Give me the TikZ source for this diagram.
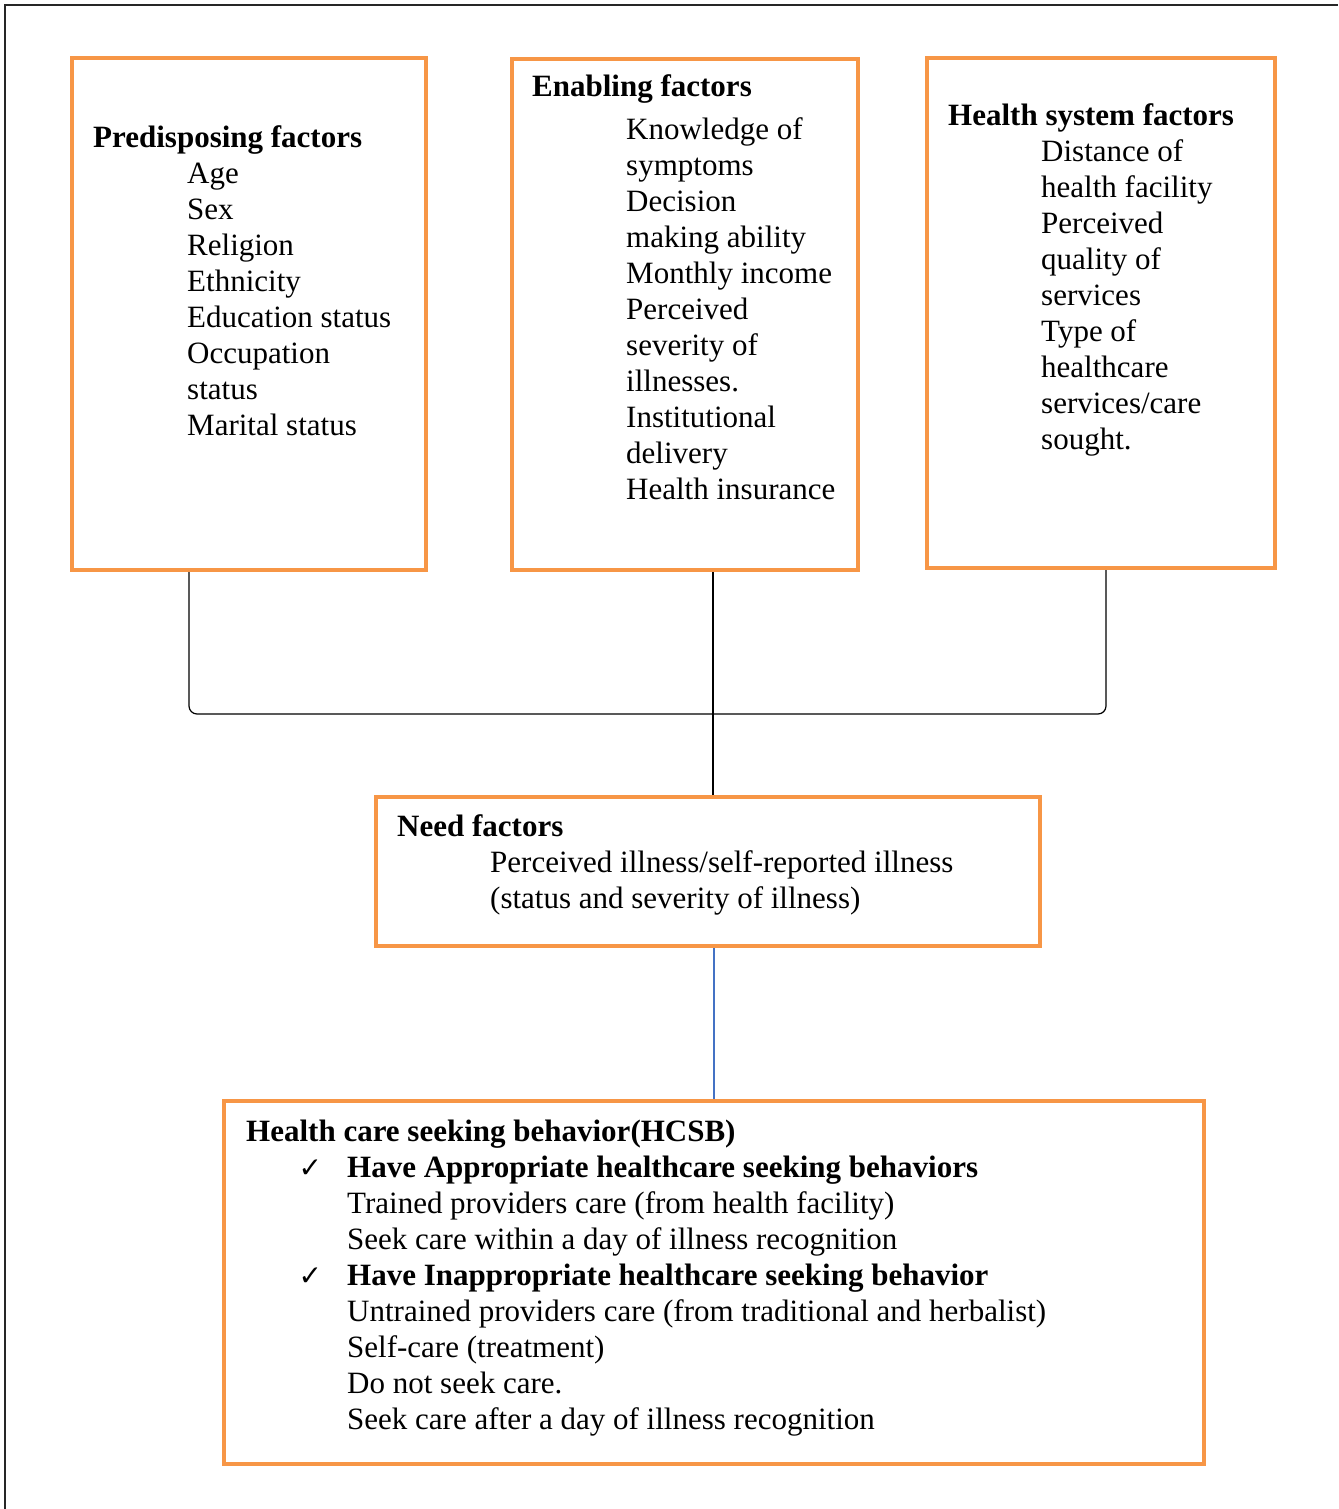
\documentclass[tikz,border=0pt]{standalone}
\usepackage{fontspec}
\setmainfont{Liberation Serif}
\newfontfamily\tickfont{DejaVu Sans}
\usetikzlibrary{positioning}
\definecolor{boxorange}{HTML}{F79646}
\definecolor{linkblue}{HTML}{4472C4}
\newcommand{\tick}{\llap{{\tickfont\fontsize{28}{36}\selectfont ✓}\hspace{25pt}}}

\begin{document}
\begin{tikzpicture}[
    x=1pt, y=-1pt,
    box/.style={rectangle, draw=boxorange, line width=4pt, inner sep=0pt},
    title/.style={anchor=base west, inner sep=0pt, font=\fontsize{31}{36}\selectfont\bfseries},
    items/.style={anchor=base west, inner sep=0pt, align=left, font=\fontsize{31}{36}\selectfont},
    link/.style={draw=black, line width=1.2pt},
    frame/.style={draw=black!85, line width=1.5pt}
]
\useasboundingbox (0,0) rectangle (1338,1509);
\draw[frame] (5,1509) -- (5,5) -- (1338,5);

% factor boxes
\node[box, minimum width=354pt, minimum height=512pt] (predis) at (249,314) {};
\node[box, minimum width=346pt, minimum height=511pt] (enab) at (685,314.5) {};
\node[box, minimum width=348pt, minimum height=510pt] (hsys) at (1101,313) {};
\node[box, minimum width=664pt, minimum height=149pt] (need) at (708,871.5) {};
\node[box, minimum width=980pt, minimum height=363pt] (hcsb) at (714,1282.5) {};

% texts (lists sit on the baseline of their last line)
\node[title] (predisT) at (93,147) {Predisposing factors};
\node[items] (predisL) at (187,435) {Age\\Sex\\Religion\\Ethnicity\\Education status\\Occupation\\status\\Marital status};

\node[title] (enabT) at (532,97) {Enabling factors};
\node[items] (enabL) at (626,499) {Knowledge of\\symptoms\\Decision\\making ability\\Monthly income\\Perceived\\severity of\\illnesses.\\Institutional\\delivery\\Health insurance};

\node[title] (hsysT) at (948,125) {Health system factors};
\node[items] (hsysL) at (1041,449) {Distance of\\health facility\\Perceived\\quality of\\services\\Type of\\healthcare\\services/care\\sought.};

\node[title] (needT) at (397,836) {Need factors};
\node[items] (needL) at (490,908) {Perceived illness/self-reported illness\\(status and severity of illness)};

\node[title] (hcsbT) at (246,1141) {Health care seeking behavior(HCSB)};
\node[items] (hcsbL) at (347,1429) {\tick\textbf{Have Appropriate healthcare seeking behaviors}\\
    Trained providers care (from health facility)\\
    Seek care within a day of illness recognition\\
    \tick\textbf{Have Inappropriate healthcare seeking behavior}\\
    Untrained providers care (from traditional and herbalist)\\
    Self-care (treatment)\\
    Do not seek care.\\
    Seek care after a day of illness recognition};

% connectors
\coordinate (braceL) at (189,714);
\coordinate (braceR) at (1106,714);
\coordinate (midline) at (713,0);
\draw[link, rounded corners=8pt] (predis.south -| braceL) -- (braceL) -- (braceR) -- (hsys.south -| braceR);
\draw[link] (enab.south -| midline) -- (need.north -| midline);
\draw[link, draw=linkblue] (need.south -| hcsb.north) -- (hcsb.north);

\end{tikzpicture}
\end{document}
